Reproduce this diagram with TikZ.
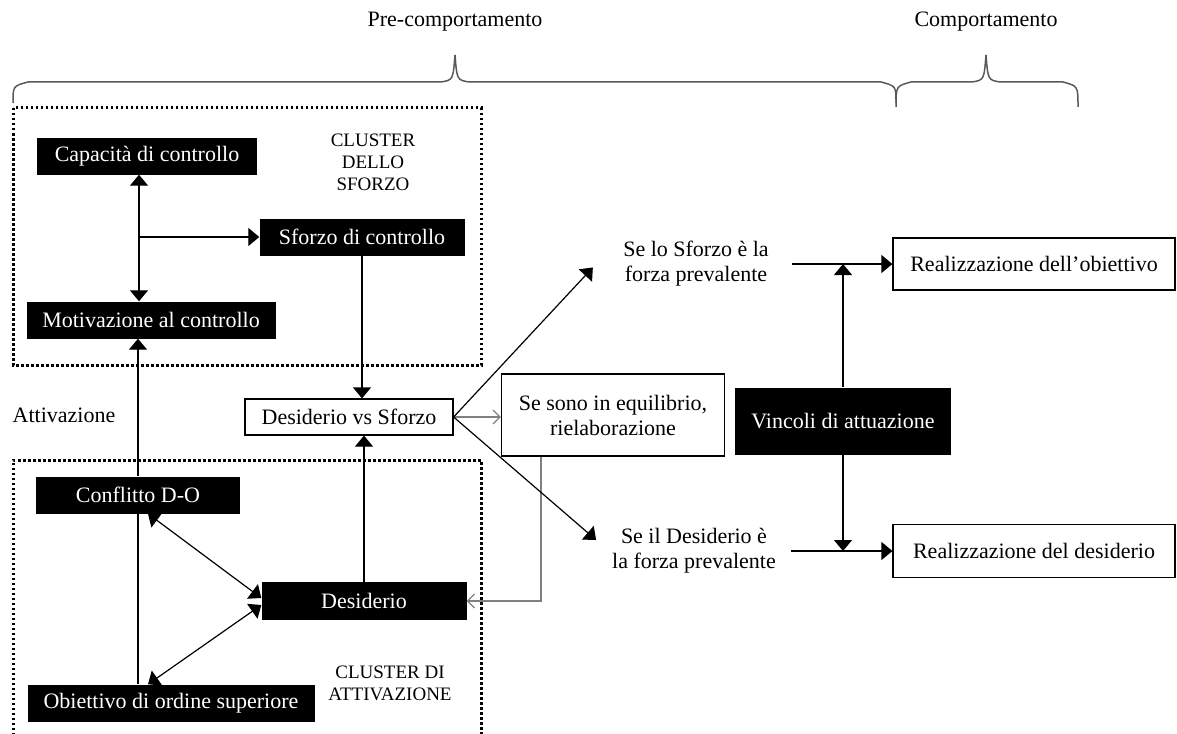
\documentclass[tikz,border=0pt]{standalone}
\usepackage{fontspec}
\setmainfont{Liberation Serif}
\usetikzlibrary{arrows.meta}
\tikzstyle{every node}=[font=\fontsize{22}{25}\selectfont]
\tikzstyle{blackbox}=[fill=black,text=white,inner sep=0pt,align=center]
\tikzstyle{whitebox}=[draw=black,fill=white,line width=1.2pt,inner sep=0pt,align=center]
\tikzstyle{txt}=[align=center,inner sep=3pt]
\tikzstyle{cluster}=[align=center,font=\fontsize{19}{22}\selectfont]
\tikzstyle{arr}=[line width=1.2pt,-{Triangle[length=11pt,width=18pt]}]
\tikzstyle{darr}=[line width=1.2pt,{Triangle[length=11pt,width=18pt]}-{Triangle[length=11pt,width=18pt]}]
\tikzstyle{grr}=[gray,line width=1.2pt,-{Straight Barb[length=7pt,width=14pt]}]
\tikzstyle{dots}=[line width=3pt,dash pattern=on 2.5pt off 2.5pt]
\tikzstyle{curly}=[gray!70!black,line width=1.5pt]

\begin{document}
\begin{tikzpicture}[x=1pt,y=-1pt]
\useasboundingbox (0,0) rectangle (1177,733);
% phases
  \node (pre)  at (455,22) {Pre-comportamento};
  \node (comp) at (986,22) {Comportamento};
  \draw[curly] (13,103) .. controls (13,86) .. (28,82) -- (441,82)
    .. controls (453,80) .. (455,55) .. controls (457,80) .. (469,82)
    -- (881,82) .. controls (896,86) .. (896,103);
  \draw[curly] (896,107) .. controls (896,86) .. (911,82) -- (972,82)
    .. controls (984,80) .. (986,55) .. controls (988,80) .. (1000,82)
    -- (1063,82) .. controls (1078,86) .. (1078,107);
% clusters
  \draw[dots] (13,108) rectangle (481,365);
  \draw[dots] (13,740) -- (13,460) -- (481,460) -- (481,740);
  \node[cluster] (cl1) at (373,162) {CLUSTER\\DELLO\\SFORZO};
  \node[cluster] (cl2) at (390,683) {CLUSTER DI\\ATTIVAZIONE};
  \node (att) at (64,415) {Attivazione};
% effort
  \node[blackbox,minimum width=220pt,minimum height=37pt] (cap) at (147,156) {Capacità di controllo};
  \node[blackbox,minimum width=205pt,minimum height=37pt] (sfz) at (362,237) {Sforzo di controllo};
  \node[blackbox,minimum width=249pt,minimum height=37pt] (mot) at (151,320) {Motivazione al controllo};
% activation
  \node[blackbox,minimum width=204pt,minimum height=37pt] (cnf) at (138,495) {Conflitto D-O};
  \node[blackbox,minimum width=205pt,minimum height=38pt] (des) at (364,601) {Desiderio};
  \node[blackbox,minimum width=287pt,minimum height=37pt] (obj) at (171,703) {Obiettivo di ordine superiore};
% comparison
  \node[whitebox,minimum width=208pt,minimum height=36pt] (dvs) at (349,417) {Desiderio vs Sforzo};
  \node[whitebox,minimum width=223pt,minimum height=82pt] (eq) at (613,415) {Se sono in equilibrio,\\rielaborazione};
  \node[txt] (if1) at (696,264) {Se lo Sforzo è la\\forza prevalente};
  \node[txt] (if2) at (694,551) {Se il Desiderio è\\la forza prevalente};
  \node[blackbox,minimum width=216pt,minimum height=67pt] (vinc) at (843,421) {Vincoli di attuazione};
  \node[whitebox,minimum width=282pt,minimum height=52pt] (ro) at (1034,264) {Realizzazione dell’obiettivo};
  \node[whitebox,minimum width=282pt,minimum height=53pt] (rd) at (1034,551) {Realizzazione del desiderio};
% connectors
  \draw[darr] ([xshift=-8pt]cap.south) -- ([xshift=-8pt]cap.south |- mot.north);
  \draw[arr] ([xshift=-8pt]cap.south |- sfz.west) -- (sfz.west);
  \draw[arr] (cnf.north) -- (cnf.north |- mot.south);
  \draw[line width=1.2pt] (obj.north -| cnf.south) -- (cnf.south);
  \draw[darr] ([xshift=10pt]cnf.south) -- ([yshift=3pt]des.west);
  \draw[darr] ([xshift=-23pt]obj.north) -- ([yshift=-4pt]des.west);
  \draw[arr] (sfz.south) -- (sfz.south |- dvs.north);
  \draw[arr] (des.north) -- (des.north |- dvs.south);
  \draw[grr] (dvs.east) -- (dvs.east -| eq.west);
  \draw[grr] ([xshift=-72pt]eq.south) |- (des.east);
  \draw[arr,shorten >=40pt] (dvs.east) -- (if1.north west);
  \draw[arr,shorten >=17pt] (dvs.east) -- (if2.west);
  \draw[arr,shorten <=20pt] (if1.east) -- (ro.west);
  \draw[arr,shorten <=12pt] (if2.east) -- (rd.west);
  \draw[arr] (vinc.north) -- (vinc.north |- ro.west);
  \draw[arr] (vinc.south) -- (vinc.south |- rd.west);
\end{tikzpicture}
\end{document}
